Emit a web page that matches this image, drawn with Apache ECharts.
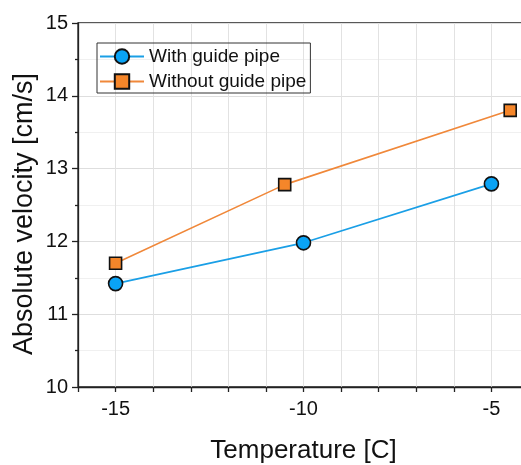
<!DOCTYPE html>
<html>
<head>
<meta charset="utf-8">
<script src="https://cdn.jsdelivr.net/npm/echarts@6/dist/echarts.min.js"></script>
<style>
    html, body { margin: 0; padding: 0; background: #fff; }
    #main { width: 521px; height: 465px; }
</style>
</head>
<body>
<div id="main"></div>
<script>
// data
var tempWith = [-15, -10, -5];
var velWith = [11.42, 11.98, 12.79];
var tempWithout = [-15, -10.5, -4.5];
var velWithout = [11.70, 12.78, 13.80];
var seriesNames = ['With guide pipe', 'Without guide pipe'];

function pairs(xs, ys) {
    var out = [];
    for (var i = 0; i < xs.length; i++) out.push([xs[i], ys[i]]);
    return out;
}

var font = 'Liberation Sans, Arial, sans-serif';
var myChart = echarts.init(document.getElementById('main'));
var option = {
    animation: false,
    textStyle: { fontFamily: font, color: '#111' },
    grid: {
        left: 78, top: 23, bottom: 78, right: -8,
        outerBoundsMode: 'none',
        containLabel: false,
        show: true, borderColor: '#222', borderWidth: 1.3
    },
    legend: {
        left: 97, top: 43,
        orient: 'vertical',
        itemWidth: 44, itemHeight: 18, itemGap: 6,
        padding: [4, 4, 2, 2],
        borderColor: '#333', borderWidth: 1,
        textStyle: { fontSize: 19, color: '#111', fontFamily: font },
        data: seriesNames
    },
    xAxis: {
        type: 'value',
        min: -16, max: -4, interval: 1,
        name: 'Temperature [C]',
        nameLocation: 'middle',
        nameGap: 51,
        nameMoveOverlap: false,
        nameTextStyle: { fontSize: 26, color: '#111' },
        axisLine: { lineStyle: { color: '#222', width: 1.3 } },
        axisTick: { length: 5, lineStyle: { color: '#222', width: 1.3 } },
        axisLabel: {
            fontSize: 20, color: '#111', margin: 12,
            formatter: function (v) { return v % 5 === 0 ? String(v) : ''; }
        },
        splitLine: { show: true, lineStyle: { color: '#e2e2e2', width: 1 } }
    },
    yAxis: {
        type: 'value',
        min: 10, max: 15, interval: 1,
        name: 'Absolute velocity [cm/s]',
        nameLocation: 'middle',
        nameGap: 40,
        nameMoveOverlap: false,
        nameTextStyle: { fontSize: 27, color: '#111', padding: [0, 18, 0, 0] },
        axisLine: { show: true, lineStyle: { color: '#222', width: 1.3 } },
        axisTick: { show: true, length: 6, lineStyle: { color: '#222', width: 1.3 } },
        minorTick: { show: true, splitNumber: 2, length: 3, lineStyle: { color: '#222', width: 1.3 } },
        axisLabel: { fontSize: 20, color: '#111', margin: 10 },
        splitLine: { show: true, lineStyle: { color: '#dedede', width: 1 } },
        minorSplitLine: { show: true, lineStyle: { color: '#f0f0f0', width: 1 } }
    },
    series: [
        {
            name: seriesNames[0],
            type: 'line',
            data: pairs(tempWith, velWith),
            symbol: 'circle',
            symbolSize: 14,
            lineStyle: { color: '#1a9fe6', width: 1.6 },
            itemStyle: { color: '#0aa3f5', borderColor: '#111', borderWidth: 1.6 },
            z: 3
        },
        {
            name: seriesNames[1],
            type: 'line',
            data: pairs(tempWithout, velWithout),
            symbol: 'rect',
            symbolSize: 12,
            lineStyle: { color: '#f0883a', width: 1.6 },
            itemStyle: { color: '#f5862a', borderColor: '#111', borderWidth: 1.6 },
            z: 2
        }
    ]
};
myChart.setOption(option, true);
window.onresize = function () { myChart.resize(); };
</script>
</body>
</html>
